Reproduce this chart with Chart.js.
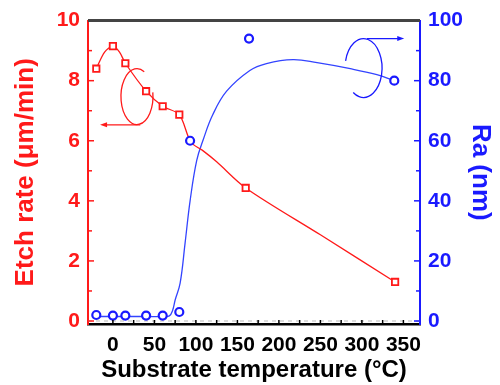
<!DOCTYPE html>
<html>
<head>
<meta charset="utf-8">
<script src="https://cdn.jsdelivr.net/npm/chart.js@4"></script>
<style>
  html, body { margin: 0; padding: 0; background: #fff; }
  #wrap { width: 500px; height: 385px; }
</style>
</head>
<body>
<div id="wrap"><canvas id="chartEtch" width="500" height="385"></canvas></div>
<script>
// measured points
const tempEtch = [-20, 0, 15, 40, 60, 80, 160, 340];
const etchRate = [8.4, 9.15, 8.58, 7.65, 7.15, 6.87, 4.43, 1.3];
const tempRa = [-20, 0, 15, 40, 60, 80, 93, 164, 339];
const raValues = [2, 1.8, 1.8, 1.8, 1.8, 3, 60, 94, 80];

// guide lines
const etchFitTemp = [-20, -10, 0, 8, 15, 40, 60, 80, 94, 108, 125, 160, 250, 340];
const etchFitRate = [8.4, 8.95, 9.15, 8.95, 8.58, 7.65, 7.15, 6.87, 5.95, 5.68, 5.3, 4.43, 2.87, 1.3];
const raFitTemp = [-20, 0, 20, 40, 60, 68, 72, 75, 81, 87, 93, 101, 109, 120, 137, 165, 185, 217, 246, 286, 318, 339];
const raFitValues = [1.5, 1.5, 1.5, 1.5, 1.5, 1.7, 3.6, 7, 12.6, 26, 40, 53.5, 60.5, 68.5, 76.5, 83.4, 85.7, 87, 86, 84, 82, 80];

// axis ticks
const xTicks = [0, 25, 50, 75, 100, 125, 150, 175, 200, 225, 250, 275, 300, 325, 350];
const etchTicks = [0, 2, 4, 6, 8, 10];
const raTicks = [0, 20, 40, 60, 80, 100];

const RED = "#ff1a1a";
const BLUE = "#1a1aff";
const FONT = "'Liberation Sans', Arial, sans-serif";

function pts(xs, ys) {
  return xs.map((x, i) => ({ x: x, y: ys[i] }));
}

const decorPlugin = {
  id: "decor",
  beforeDatasetsDraw(chart) {
    const { ctx, chartArea, scales } = chart;
    const y0 = scales.y.getPixelForValue(0);
    ctx.save();
    ctx.strokeStyle = "#bbbbbb";
    ctx.lineWidth = 1;
    ctx.setLineDash([4, 4]);
    ctx.beginPath();
    ctx.moveTo(chartArea.left, y0);
    ctx.lineTo(chartArea.right, y0);
    ctx.stroke();
    ctx.restore();
  },
  afterDatasetsDraw(chart) {
    const { ctx, chartArea, scales } = chart;
    const x = scales.x, y = scales.y, y1 = scales.y1;
    ctx.save();

    // inward tick marks
    ctx.lineWidth = 1.5;
    ctx.strokeStyle = "#000";
    xTicks.forEach(v => {
      const px = x.getPixelForValue(v);
      ctx.beginPath();
      ctx.moveTo(px, chartArea.bottom);
      ctx.lineTo(px, chartArea.bottom - 4);
      ctx.stroke();
    });
    ctx.strokeStyle = RED;
    for (let v = 0; v <= 10; v++) {
      const py = y.getPixelForValue(v);
      ctx.beginPath();
      ctx.moveTo(chartArea.left, py);
      ctx.lineTo(chartArea.left + (v % 2 === 0 ? 6 : 4), py);
      ctx.stroke();
    }
    ctx.strokeStyle = BLUE;
    for (let v = 0; v <= 100; v += 10) {
      const py = y1.getPixelForValue(v);
      ctx.beginPath();
      ctx.moveTo(chartArea.right, py);
      ctx.lineTo(chartArea.right - (v % 20 === 0 ? 6 : 4), py);
      ctx.stroke();
    }

    // top frame line
    ctx.strokeStyle = "#444";
    ctx.lineWidth = 3;
    ctx.beginPath();
    ctx.moveTo(chartArea.left, chartArea.top);
    ctx.lineTo(chartArea.right, chartArea.top);
    ctx.stroke();

    // red loop + arrow (points to left axis)
    ctx.lineWidth = 1.3;
    ctx.strokeStyle = RED;
    ctx.fillStyle = RED;
    let cx = x.getPixelForValue(29), cy = y.getPixelForValue(7.47);
    let rx = x.getPixelForValue(29 + 19.3) - cx, ry = cy - y.getPixelForValue(7.47 + 0.93);
    ctx.beginPath();
    ctx.ellipse(cx, cy, rx, ry, 0, -0.15, 2 * Math.PI - 1.1);
    ctx.stroke();
    let ay = y.getPixelForValue(6.53);
    let ax0 = x.getPixelForValue(33), ax1 = x.getPixelForValue(-15.5);
    ctx.beginPath();
    ctx.moveTo(ax0, ay);
    ctx.lineTo(ax1 + 5, ay);
    ctx.stroke();
    ctx.beginPath();
    ctx.moveTo(ax1, ay);
    ctx.lineTo(ax1 + 7, ay - 2.5);
    ctx.lineTo(ax1 + 7, ay + 2.5);
    ctx.closePath();
    ctx.fill();

    // blue loop + arrow (points to right axis)
    ctx.strokeStyle = BLUE;
    ctx.fillStyle = BLUE;
    cx = x.getPixelForValue(302); cy = y1.getPixelForValue(84.2);
    rx = x.getPixelForValue(302 + 22.3) - cx; ry = cy - y1.getPixelForValue(84.2 + 9.8);
    ctx.beginPath();
    ctx.ellipse(cx, cy, rx, ry, 0, 194 * Math.PI / 180, (124 + 360) * Math.PI / 180);
    ctx.stroke();
    ay = y1.getPixelForValue(94);
    ax0 = x.getPixelForValue(306); ax1 = x.getPixelForValue(351);
    ctx.beginPath();
    ctx.moveTo(ax0, ay);
    ctx.lineTo(ax1 - 5, ay);
    ctx.stroke();
    ctx.beginPath();
    ctx.moveTo(ax1, ay);
    ctx.lineTo(ax1 - 7, ay - 2.5);
    ctx.lineTo(ax1 - 7, ay + 2.5);
    ctx.closePath();
    ctx.fill();

    ctx.restore();
  }
};

new Chart(document.getElementById("chartEtch"), {
  type: "scatter",
  data: {
    datasets: [
      {
        label: "Etch fit",
        data: pts(etchFitTemp, etchFitRate),
        yAxisID: "y",
        showLine: true,
        borderColor: RED,
        borderWidth: 1.3,
        pointRadius: 0,
        tension: 0.3,
        order: 3
      },
      {
        label: "Ra fit",
        data: pts(raFitTemp, raFitValues),
        yAxisID: "y1",
        showLine: true,
        borderColor: "#3344ff",
        borderWidth: 1.3,
        pointRadius: 0,
        tension: 0.4,
        order: 3
      },
      {
        label: "Etch rate",
        data: pts(tempEtch, etchRate),
        yAxisID: "y",
        pointStyle: "rect",
        pointRadius: 4.5,
        borderColor: RED,
        backgroundColor: "#fff",
        borderWidth: 1.8,
        order: 1
      },
      {
        label: "Ra",
        data: pts(tempRa, raValues),
        yAxisID: "y1",
        pointStyle: "circle",
        pointRadius: 4,
        borderColor: BLUE,
        backgroundColor: "#fff",
        borderWidth: 2.2,
        order: 1
      }
    ]
  },
  options: {
    responsive: false,
    animation: false,
    layout: { padding: { top: 20, left: 0, right: 0, bottom: 0 } },
    plugins: { legend: { display: false }, tooltip: { enabled: false } },
    scales: {
      x: {
        type: "linear",
        min: -30,
        max: 370,
        afterBuildTicks: s => { s.ticks = xTicks.map(v => ({ value: v })); },
        afterFit: s => { s.height = 61; },
        grid: { display: false, drawTicks: false },
        border: { color: "#000", width: 2.5 },
        ticks: {
          color: "#000",
          font: { family: FONT, size: 21, weight: "bold" },
          padding: 9,
          autoSkip: false,
          maxRotation: 0,
          callback: v => (v % 50 === 0 ? String(v) : "")
        },
        title: {
          display: true,
          text: "Substrate temperature (°C)",
          color: "#000",
          font: { family: FONT, size: 24, weight: "bold" },
          padding: { top: 0, bottom: 0 }
        }
      },
      y: {
        position: "left",
        min: -0.1,
        max: 10,
        afterBuildTicks: s => { s.ticks = etchTicks.map(v => ({ value: v })); },
        afterFit: s => { s.width = 88; },
        grid: { display: false, drawTicks: false },
        border: { color: RED, width: 2 },
        ticks: {
          color: RED,
          font: { family: FONT, size: 21, weight: "bold" },
          padding: 8
        },
        title: {
          display: true,
          text: "Etch rate (μm/min)",
          color: RED,
          font: { family: FONT, size: 26, weight: "bold" },
          padding: { top: 10, bottom: 0 }
        }
      },
      y1: {
        position: "right",
        min: -1,
        max: 100,
        afterBuildTicks: s => { s.ticks = raTicks.map(v => ({ value: v })); },
        afterFit: s => { s.width = 80; },
        grid: { display: false, drawTicks: false },
        border: { color: BLUE, width: 2 },
        ticks: {
          color: BLUE,
          font: { family: FONT, size: 21, weight: "bold" },
          padding: 8
        },
        title: {
          display: true,
          text: "Ra (nm)",
          color: BLUE,
          font: { family: FONT, size: 26, weight: "bold" },
          padding: { top: 4, bottom: 0 }
        }
      }
    }
  },
  plugins: [decorPlugin]
});
</script>
</body>
</html>
